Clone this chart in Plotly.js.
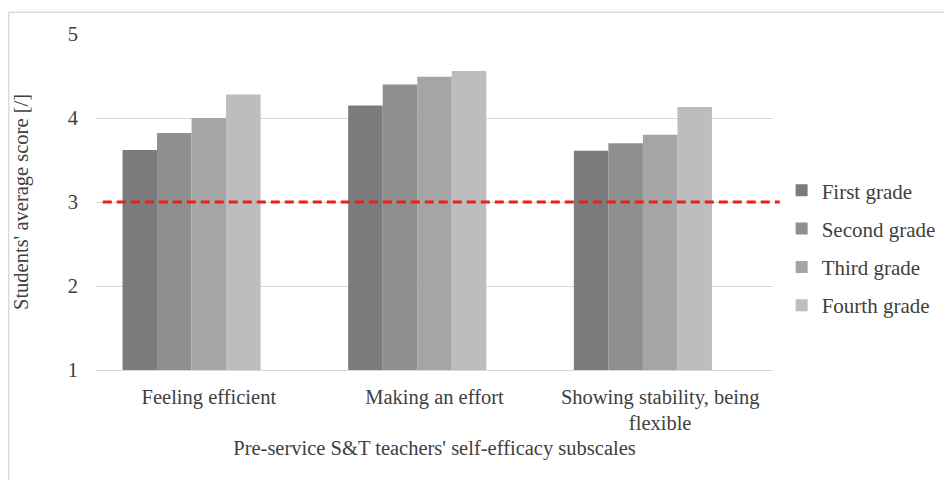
<!DOCTYPE html>
<html>
<head>
<meta charset="utf-8">
<script src="https://cdn.plot.ly/plotly-3.0.1.min.js"></script>
<style>
html,body{margin:0;padding:0;background:#fff;}
#chart{width:944px;height:480px;}
</style>
</head>
<body>
<div id="chart"></div>
<script>
const categories = ["Feeling efficient", "Making an effort", "Showing stability, being<br>flexible"];
const seriesNames = ["First grade", "Second grade", "Third grade", "Fourth grade"];
const firstGrade = [3.62, 4.15, 3.61];
const secondGrade = [3.82, 4.40, 3.70];
const thirdGrade = [4.00, 4.49, 3.80];
const fourthGrade = [4.28, 4.56, 4.13];
const threshold = 3;
const yTicks = [1, 2, 3, 4, 5];
const colors = ["#7b7b7b", "#8f8f8f", "#a5a5a5", "#bdbdbd"];

const values = [firstGrade, secondGrade, thirdGrade, fourthGrade];
const fam = "Liberation Serif, Times New Roman, serif";
const txt = "#404040";
const fs = 20.5;
const barW = 0.153;

const traces = values.map((v, i) => ({
  type: "bar",
  x: categories,
  y: v,
  name: seriesNames[i],
  legendgroup: "g" + i,
  width: barW,
  offset: -2.5 * barW + i * barW,
  marker: {color: colors[i], line: {width: 0}},
  hoverinfo: "x+y+name"
}));

const layout = {
  width: 944, height: 480,
  margin: {l: 96, r: 171, t: 34, b: 110},
  paper_bgcolor: "#fff", plot_bgcolor: "#fff",
  font: {family: fam, color: txt, size: fs},
  barmode: "overlay",
  showlegend: true,
  legend: {
    xref: "container", yref: "container",
    x: 0.828, xanchor: "left", y: 0.483, yanchor: "middle",
    font: {family: fam, size: 21, color: txt},
    traceorder: "grouped", tracegroupgap: 8,
    itemwidth: 30, bgcolor: "rgba(0,0,0,0)"
  },
  xaxis: {
    showgrid: false, zeroline: false,
    showline: true, linecolor: "#d9d9d9", linewidth: 1,
    ticks: "", ticklabelstandoff: 8,
    tickfont: {family: fam, size: fs, color: txt},
    title: {text: "Pre-service S&T teachers' self-efficacy subscales", font: {family: fam, size: fs, color: txt}, standoff: 7},
    automargin: false
  },
  yaxis: {
    range: [1, 5], tickvals: yTicks, ticktext: yTicks.map(String),
    showgrid: true, gridcolor: "#d9d9d9", gridwidth: 1,
    zeroline: false, showline: false, ticks: "",
    ticklabelstandoff: 17,
    tickfont: {family: fam, size: fs, color: txt},
    title: {text: "Students' average score [/]", font: {family: fam, size: fs, color: txt}, standoff: 33},
    automargin: false
  },
  shapes: [
    {type: "line", xref: "paper", yref: "y", x0: 0.01, x1: 1.01, y0: threshold, y1: threshold,
     line: {color: "#e8201c", width: 3, dash: "9px,5px"}},
    {type: "line", xref: "paper", yref: "paper", x0: -0.129, x1: 1.3, y0: 1.065, y1: 1.065,
     line: {color: "#d9d9d9", width: 1.5}},
    {type: "line", xref: "paper", yref: "paper", x0: -0.129, x1: -0.129, y0: -0.35, y1: 1.065,
     line: {color: "#d9d9d9", width: 1.5}}
  ]
};

Plotly.newPlot("chart", traces, layout, {displayModeBar: false, staticPlot: true});
</script>
</body>
</html>
